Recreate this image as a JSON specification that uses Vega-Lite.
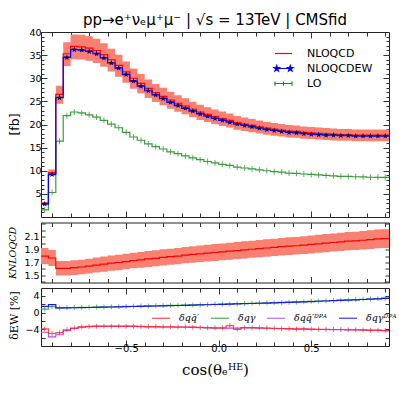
{
"$schema": "https://vega.github.io/schema/vega-lite/v6.json",
"background": "white",
"padding": {"left": 6, "top": 12, "right": 2, "bottom": 2},
"title": {"text": "pp→e⁺νₑμ⁺μ⁻ | √s = 13TeV | CMSfid", "font": "DejaVu Sans", "fontSize": 15, "fontWeight": "normal", "color": "#000", "anchor": "middle", "frame": "group", "offset": 8, "dy": 9},
"config": {
  "view": {"stroke": "#222", "strokeWidth": 1},
  "axis": {"grid": false, "domain": false, "labelOverlap": false, "labelFont": "DejaVu Sans", "labelFontSize": 9.5, "labelColor": "#000", "tickColor": "#333", "titleFont": "DejaVu Sans", "titleFontWeight": "normal", "titleColor": "#000"},
  "legend": {"labelColor": "#000"}
},
"datasets": {"bins": [
{"x":-0.96,"xc":-0.94,"qcd":3.0,"qlo":2.78,"qhi":3.21,"ew":2.8,"lo":1.55,"k":1.80,"klo":1.674,"khi":1.926,"dqq":-3.9,"dqg":0.85,"dqqd":-4.7,"dqgd":1.5},
{"x":-0.92,"xc":-0.90,"qcd":9.6,"qlo":8.88,"qhi":10.27,"ew":9.2,"lo":5.3,"k":1.77,"klo":1.646,"khi":1.894,"dqq":-5.0,"dqg":1.45,"dqqd":-5.8,"dqgd":1.9},
{"x":-0.88,"xc":-0.86,"qcd":26.5,"qlo":24.51,"qhi":28.36,"ew":25.8,"lo":16.4,"k":1.61,"klo":1.497,"khi":1.723,"dqq":-4.8,"dqg":1.1,"dqqd":-5.3,"dqgd":1.15},
{"x":-0.84,"xc":-0.82,"qcd":35.3,"qlo":32.65,"qhi":37.77,"ew":34.5,"lo":21.9,"k":1.61,"klo":1.497,"khi":1.723,"dqq":-4.1,"dqg":1.2,"dqqd":-4.3,"dqgd":1.15},
{"x":-0.80,"xc":-0.78,"qcd":36.9,"qlo":34.13,"qhi":39.48,"ew":36.2,"lo":22.7,"k":1.62,"klo":1.507,"khi":1.733,"dqq":-3.7,"dqg":1.22,"dqqd":-3.8,"dqgd":1.17},
{"x":-0.76,"xc":-0.74,"qcd":36.8,"qlo":34.04,"qhi":39.38,"ew":36.1,"lo":22.5,"k":1.63,"klo":1.516,"khi":1.744,"dqq":-3.4,"dqg":1.25,"dqqd":-3.5,"dqgd":1.20},
{"x":-0.72,"xc":-0.70,"qcd":36.5,"qlo":33.76,"qhi":39.06,"ew":35.8,"lo":22.1,"k":1.645,"klo":1.530,"khi":1.760,"dqq":-3.3,"dqg":1.28,"dqqd":-3.35,"dqgd":1.23},
{"x":-0.68,"xc":-0.66,"qcd":36.0,"qlo":33.30,"qhi":38.52,"ew":35.3,"lo":21.6,"k":1.66,"klo":1.544,"khi":1.776,"dqq":-3.25,"dqg":1.32,"dqqd":-3.3,"dqgd":1.27},
{"x":-0.64,"xc":-0.62,"qcd":35.1,"qlo":32.47,"qhi":37.56,"ew":34.4,"lo":20.9,"k":1.675,"klo":1.558,"khi":1.792,"dqq":-3.25,"dqg":1.36,"dqqd":-3.3,"dqgd":1.31},
{"x":-0.60,"xc":-0.58,"qcd":34.0,"qlo":31.45,"qhi":36.38,"ew":33.3,"lo":20.1,"k":1.69,"klo":1.572,"khi":1.808,"dqq":-3.25,"dqg":1.40,"dqqd":-3.3,"dqgd":1.35},
{"x":-0.56,"xc":-0.54,"qcd":32.8,"qlo":30.34,"qhi":35.10,"ew":32.2,"lo":19.3,"k":1.70,"klo":1.581,"khi":1.819,"dqq":-3.25,"dqg":1.44,"dqqd":-3.3,"dqgd":1.39},
{"x":-0.52,"xc":-0.50,"qcd":31.4,"qlo":29.05,"qhi":33.60,"ew":30.8,"lo":18.3,"k":1.715,"klo":1.595,"khi":1.835,"dqq":-3.25,"dqg":1.48,"dqqd":-3.3,"dqgd":1.43},
{"x":-0.48,"xc":-0.46,"qcd":30.0,"qlo":27.75,"qhi":32.10,"ew":29.4,"lo":17.3,"k":1.73,"klo":1.609,"khi":1.851,"dqq":-3.25,"dqg":1.52,"dqqd":-3.3,"dqgd":1.47},
{"x":-0.44,"xc":-0.42,"qcd":28.9,"qlo":26.73,"qhi":30.92,"ew":28.3,"lo":16.6,"k":1.74,"klo":1.618,"khi":1.862,"dqq":-3.3,"dqg":1.56,"dqqd":-3.35,"dqgd":1.51},
{"x":-0.40,"xc":-0.38,"qcd":27.8,"qlo":25.72,"qhi":29.75,"ew":27.3,"lo":15.8,"k":1.755,"klo":1.632,"khi":1.878,"dqq":-3.35,"dqg":1.60,"dqqd":-3.4,"dqgd":1.55},
{"x":-0.36,"xc":-0.34,"qcd":26.9,"qlo":24.88,"qhi":28.78,"ew":26.4,"lo":15.2,"k":1.765,"klo":1.641,"khi":1.889,"dqq":-3.35,"dqg":1.64,"dqqd":-3.4,"dqgd":1.59},
{"x":-0.32,"xc":-0.30,"qcd":26.1,"qlo":24.14,"qhi":27.93,"ew":25.6,"lo":14.7,"k":1.78,"klo":1.655,"khi":1.905,"dqq":-3.4,"dqg":1.68,"dqqd":-3.45,"dqgd":1.63},
{"x":-0.28,"xc":-0.26,"qcd":25.3,"qlo":23.40,"qhi":27.07,"ew":24.8,"lo":14.1,"k":1.79,"klo":1.665,"khi":1.915,"dqq":-3.4,"dqg":1.72,"dqqd":-3.45,"dqgd":1.67},
{"x":-0.24,"xc":-0.22,"qcd":24.6,"qlo":22.76,"qhi":26.32,"ew":24.1,"lo":13.7,"k":1.80,"klo":1.674,"khi":1.926,"dqq":-3.45,"dqg":1.76,"dqqd":-3.5,"dqgd":1.71},
{"x":-0.20,"xc":-0.18,"qcd":24.0,"qlo":22.20,"qhi":25.68,"ew":23.5,"lo":13.2,"k":1.815,"klo":1.688,"khi":1.942,"dqq":-3.45,"dqg":1.80,"dqqd":-3.5,"dqgd":1.75},
{"x":-0.16,"xc":-0.14,"qcd":23.3,"qlo":21.55,"qhi":24.93,"ew":22.9,"lo":12.8,"k":1.825,"klo":1.697,"khi":1.953,"dqq":-3.5,"dqg":1.84,"dqqd":-3.55,"dqgd":1.79},
{"x":-0.12,"xc":-0.10,"qcd":22.7,"qlo":21.00,"qhi":24.29,"ew":22.3,"lo":12.4,"k":1.835,"klo":1.707,"khi":1.963,"dqq":-3.55,"dqg":1.89,"dqqd":-3.6,"dqgd":1.84},
{"x":-0.08,"xc":-0.06,"qcd":22.2,"qlo":20.54,"qhi":23.75,"ew":21.8,"lo":12.0,"k":1.845,"klo":1.716,"khi":1.974,"dqq":-3.6,"dqg":1.94,"dqqd":-3.65,"dqgd":1.89},
{"x":-0.04,"xc":-0.02,"qcd":21.7,"qlo":20.07,"qhi":23.22,"ew":21.3,"lo":11.7,"k":1.855,"klo":1.725,"khi":1.985,"dqq":-3.65,"dqg":1.99,"dqqd":-3.7,"dqgd":1.94},
{"x":0.00,"xc":0.02,"qcd":21.3,"qlo":19.70,"qhi":22.79,"ew":20.9,"lo":11.4,"k":1.865,"klo":1.734,"khi":1.996,"dqq":-3.65,"dqg":2.04,"dqqd":-3.7,"dqgd":1.99},
{"x":0.04,"xc":0.06,"qcd":20.9,"qlo":19.33,"qhi":22.36,"ew":20.5,"lo":11.15,"k":1.875,"klo":1.744,"khi":2.006,"dqq":-3.1,"dqg":2.09,"dqqd":-3.7,"dqgd":2.04},
{"x":0.08,"xc":0.10,"qcd":20.4,"qlo":18.87,"qhi":21.83,"ew":20.1,"lo":10.8,"k":1.885,"klo":1.753,"khi":2.017,"dqq":-4.0,"dqg":2.14,"dqqd":-3.7,"dqgd":2.09},
{"x":0.12,"xc":0.14,"qcd":20.1,"qlo":18.59,"qhi":21.51,"ew":19.8,"lo":10.6,"k":1.895,"klo":1.762,"khi":2.028,"dqq":-3.6,"dqg":2.19,"dqqd":-3.65,"dqgd":2.14},
{"x":0.16,"xc":0.18,"qcd":19.8,"qlo":18.32,"qhi":21.19,"ew":19.5,"lo":10.4,"k":1.905,"klo":1.772,"khi":2.038,"dqq":-3.6,"dqg":2.24,"dqqd":-3.65,"dqgd":2.19},
{"x":0.20,"xc":0.22,"qcd":19.5,"qlo":18.04,"qhi":20.87,"ew":19.2,"lo":10.2,"k":1.915,"klo":1.781,"khi":2.049,"dqq":-3.65,"dqg":2.29,"dqqd":-3.7,"dqgd":2.24},
{"x":0.24,"xc":0.26,"qcd":19.2,"qlo":17.76,"qhi":20.54,"ew":18.9,"lo":10.0,"k":1.925,"klo":1.790,"khi":2.060,"dqq":-3.7,"dqg":2.34,"dqqd":-3.75,"dqgd":2.29},
{"x":0.28,"xc":0.30,"qcd":19.0,"qlo":17.58,"qhi":20.33,"ew":18.7,"lo":9.8,"k":1.935,"klo":1.800,"khi":2.070,"dqq":-3.75,"dqg":2.39,"dqqd":-3.8,"dqgd":2.34},
{"x":0.32,"xc":0.34,"qcd":18.8,"qlo":17.39,"qhi":20.12,"ew":18.5,"lo":9.7,"k":1.945,"klo":1.809,"khi":2.081,"dqq":-3.8,"dqg":2.45,"dqqd":-3.85,"dqgd":2.40},
{"x":0.36,"xc":0.38,"qcd":18.6,"qlo":17.21,"qhi":19.90,"ew":18.3,"lo":9.5,"k":1.955,"klo":1.818,"khi":2.092,"dqq":-3.85,"dqg":2.51,"dqqd":-3.9,"dqgd":2.46},
{"x":0.40,"xc":0.42,"qcd":18.5,"qlo":17.11,"qhi":19.80,"ew":18.2,"lo":9.45,"k":1.96,"klo":1.823,"khi":2.097,"dqq":-3.9,"dqg":2.57,"dqqd":-3.95,"dqgd":2.52},
{"x":0.44,"xc":0.46,"qcd":18.3,"qlo":16.93,"qhi":19.58,"ew":18.0,"lo":9.3,"k":1.97,"klo":1.832,"khi":2.108,"dqq":-3.9,"dqg":2.63,"dqqd":-3.95,"dqgd":2.58},
{"x":0.48,"xc":0.50,"qcd":18.2,"qlo":16.84,"qhi":19.47,"ew":17.9,"lo":9.2,"k":1.98,"klo":1.841,"khi":2.119,"dqq":-3.95,"dqg":2.70,"dqqd":-4.0,"dqgd":2.65},
{"x":0.52,"xc":0.54,"qcd":18.1,"qlo":16.74,"qhi":19.37,"ew":17.8,"lo":9.1,"k":1.99,"klo":1.851,"khi":2.129,"dqq":-4.0,"dqg":2.77,"dqqd":-4.05,"dqgd":2.72},
{"x":0.56,"xc":0.58,"qcd":18.0,"qlo":16.65,"qhi":19.26,"ew":17.7,"lo":9.0,"k":2.00,"klo":1.860,"khi":2.140,"dqq":-4.0,"dqg":2.84,"dqqd":-4.05,"dqgd":2.79},
{"x":0.60,"xc":0.62,"qcd":17.9,"qlo":16.56,"qhi":19.15,"ew":17.7,"lo":8.9,"k":2.01,"klo":1.869,"khi":2.151,"dqq":-4.05,"dqg":2.91,"dqqd":-4.1,"dqgd":2.86},
{"x":0.64,"xc":0.66,"qcd":17.8,"qlo":16.47,"qhi":19.05,"ew":17.6,"lo":8.8,"k":2.02,"klo":1.879,"khi":2.161,"dqq":-4.05,"dqg":2.98,"dqqd":-4.1,"dqgd":2.93},
{"x":0.68,"xc":0.70,"qcd":17.8,"qlo":16.47,"qhi":19.05,"ew":17.6,"lo":8.77,"k":2.03,"klo":1.888,"khi":2.172,"dqq":-4.1,"dqg":3.05,"dqqd":-4.15,"dqgd":3.00},
{"x":0.72,"xc":0.74,"qcd":17.7,"qlo":16.37,"qhi":18.94,"ew":17.5,"lo":8.7,"k":2.035,"klo":1.893,"khi":2.177,"dqq":-4.1,"dqg":3.12,"dqqd":-4.15,"dqgd":3.07},
{"x":0.76,"xc":0.78,"qcd":17.7,"qlo":16.37,"qhi":18.94,"ew":17.5,"lo":8.66,"k":2.045,"klo":1.902,"khi":2.188,"dqq":-4.15,"dqg":3.19,"dqqd":-4.2,"dqgd":3.14},
{"x":0.80,"xc":0.82,"qcd":17.7,"qlo":16.37,"qhi":18.94,"ew":17.5,"lo":8.6,"k":2.055,"klo":1.911,"khi":2.199,"dqq":-4.2,"dqg":3.26,"dqqd":-4.25,"dqgd":3.21},
{"x":0.84,"xc":0.86,"qcd":17.7,"qlo":16.37,"qhi":18.94,"ew":17.5,"lo":8.57,"k":2.065,"klo":1.920,"khi":2.210,"dqq":-4.2,"dqg":3.34,"dqqd":-4.25,"dqgd":3.29},
{"x":0.88,"xc":0.90,"qcd":17.7,"qlo":16.37,"qhi":18.94,"ew":17.5,"lo":8.55,"k":2.07,"klo":1.925,"khi":2.215,"dqq":-4.3,"dqg":3.45,"dqqd":-4.35,"dqgd":3.40},
{"x":0.92,"qcd":17.7,"qlo":16.37,"qhi":18.94,"ew":17.5,"lo":8.55,"k":2.07,"klo":1.925,"khi":2.215,"dqq":-4.3,"dqg":3.45,"dqqd":-4.35,"dqgd":3.40}
]},
"spacing": 5.5,
"bounds": "flush",
"resolve": {"scale": {"x": "independent", "y": "independent", "color": "independent"}, "legend": {"color": "independent"}},
"vconcat": [
{
  "width": 348, "height": 185,
  "data": {"name": "bins"},
  "resolve": {"axis": {"x": "independent", "y": "independent"}},
  "layer": [
    {"mark": {"type": "area", "interpolate": "step-after", "color": "#fa8072", "opacity": 1},
     "encoding": {
       "x": {"field": "x", "type": "quantitative", "scale": {"domain": [-0.96, 0.92], "nice": false, "zero": false},
             "axis": {"orient": "top", "values": [-0.9,-0.8,-0.7,-0.6,-0.5,-0.4,-0.3,-0.2,-0.1,0,0.1,0.2,0.3,0.4,0.5,0.6,0.7,0.8,0.9], "labels": false, "title": null, "tickSize": {"condition": {"test": "abs(datum.value) === 0.5 || datum.value === 0", "value": -6}, "value": -4}}},
       "y": {"field": "qlo", "type": "quantitative", "scale": {"domain": [0, 40], "nice": false, "zero": false},
             "axis": {"orient": "right", "values": [1,2,3,4,5,6,7,8,9,10,11,12,13,14,15,16,17,18,19,20,21,22,23,24,25,26,27,28,29,30,31,32,33,34,35,36,37,38,39], "labels": false, "title": null, "tickSize": {"condition": {"test": "datum.value % 5 === 0", "value": -6}, "value": -3}}},
       "y2": {"field": "qhi"}
     }},
    {"mark": {"type": "line", "interpolate": "step-after", "strokeWidth": 1.2},
     "encoding": {
       "x": {"field": "x", "type": "quantitative", "scale": {"domain": [-0.96, 0.92], "nice": false, "zero": false},
             "axis": {"orient": "bottom", "values": [-0.9,-0.8,-0.7,-0.6,-0.5,-0.4,-0.3,-0.2,-0.1,0,0.1,0.2,0.3,0.4,0.5,0.6,0.7,0.8,0.9], "labels": false, "title": null, "tickSize": {"condition": {"test": "abs(datum.value) === 0.5 || datum.value === 0", "value": -6}, "value": -4}}},
       "y": {"field": "qcd", "type": "quantitative", "scale": {"domain": [0, 40], "nice": false, "zero": false},
             "axis": {"orient": "left", "values": [1,2,3,4,5,6,7,8,9,10,11,12,13,14,15,16,17,18,19,20,21,22,23,24,25,26,27,28,29,30,31,32,33,34,35,36,37,38,39,40], "labelOverlap": false, "labelExpr": "datum.value % 5 === 0 ? format(datum.value, 'd') : ''", "labelPadding": 6, "tickSize": {"condition": {"test": "datum.value % 5 === 0", "value": -6}, "value": -3},
                      "title": "[fb]", "titleFontSize": 12.5, "titleAngle": -90, "titleBaseline": "bottom", "titleAlign": "center", "titleX": -20, "titleY": 92}},
       "color": {"datum": "NLOQCD", "type": "nominal", "scale": {"domain": ["NLOQCD", "NLOQCDEW", "LO"], "range": ["#ff0000", "#0000ff", "#1a8a1a"]},
                 "legend": {"orient": "none", "legendX": 233, "legendY": 12, "title": null, "padding": 0, "rowPadding": 0, "symbolSize": 289, "symbolStrokeWidth": 1.2, "symbolType": "stroke", "labelFont": "DejaVu Sans", "labelFontSize": 11, "labelOffset": 14,
                   "encode": {"symbols": {"update": {
                     "shape": {"signal": "datum.value === 'NLOQCDEW' ? 'M-1,0L1,0M-0.8,-0.35L-0.718,-0.113L-0.467,-0.108L-0.667,0.043L-0.594,0.283L-0.8,0.14L-1.006,0.283L-0.933,0.043L-1.133,-0.108L-0.882,-0.113ZM0.8,-0.35L0.882,-0.113L1.133,-0.108L0.933,0.043L1.006,0.283L0.8,0.14L0.594,0.283L0.667,0.043L0.467,-0.108L0.718,-0.113Z' : (datum.value === 'LO' ? 'M-1,0L1,0M-1,-0.25L-1,0.25M1,-0.25L1,0.25M0,-0.25L0,0.25' : 'stroke')"},
                     "fill": {"signal": "datum.value === 'NLOQCDEW' ? '#000066' : 'transparent'"}}}}}}
     }},
    {"mark": {"type": "line", "interpolate": "step-after", "strokeWidth": 1.2, "opacity": 0.85},
     "encoding": {
       "x": {"field": "x", "type": "quantitative", "scale": {"domain": [-0.96, 0.92], "nice": false, "zero": false}, "axis": null},
       "y": {"field": "lo", "type": "quantitative", "scale": {"domain": [0, 40], "nice": false, "zero": false}, "axis": null},
       "color": {"datum": "LO", "type": "nominal"}
     }},
    {"transform": [{"filter": "isValid(datum.xc)"}],
     "mark": {"type": "tick", "orient": "vertical", "color": "#3a9a3a", "size": 6, "thickness": 1, "opacity": 0.8},
     "encoding": {
       "x": {"field": "xc", "type": "quantitative", "scale": {"domain": [-0.96, 0.92], "nice": false, "zero": false}, "axis": null},
       "y": {"field": "lo", "type": "quantitative", "scale": {"domain": [0, 40], "nice": false, "zero": false}, "axis": null}
     }},
    {"mark": {"type": "line", "interpolate": "step-after", "strokeWidth": 1.2},
     "encoding": {
       "x": {"field": "x", "type": "quantitative", "scale": {"domain": [-0.96, 0.92], "nice": false, "zero": false}, "axis": null},
       "y": {"field": "ew", "type": "quantitative", "scale": {"domain": [0, 40], "nice": false, "zero": false}, "axis": null},
       "color": {"datum": "NLOQCDEW", "type": "nominal"}
     }},
    {"transform": [{"filter": "isValid(datum.xc)"}],
     "mark": {"type": "point", "shape": "M0,-1L0.235,-0.324L0.951,-0.309L0.380,0.124L0.588,0.809L0,0.4L-0.588,0.809L-0.380,0.124L-0.951,-0.309L-0.235,-0.324Z", "filled": true, "color": "#000066", "size": 40, "opacity": 1},
     "encoding": {
       "x": {"field": "xc", "type": "quantitative", "scale": {"domain": [-0.96, 0.92], "nice": false, "zero": false}, "axis": null},
       "y": {"field": "ew", "type": "quantitative", "scale": {"domain": [0, 40], "nice": false, "zero": false}, "axis": null}
     }}
  ]
},
{
  "width": 348, "height": 60,
  "data": {"name": "bins"},
  "resolve": {"axis": {"x": "independent", "y": "independent"}},
  "layer": [
    {"mark": {"type": "area", "interpolate": "step-after", "color": "#fa8072", "opacity": 1},
     "encoding": {
       "x": {"field": "x", "type": "quantitative", "scale": {"domain": [-0.96, 0.92], "nice": false, "zero": false},
             "axis": {"orient": "top", "values": [-0.9,-0.8,-0.7,-0.6,-0.5,-0.4,-0.3,-0.2,-0.1,0,0.1,0.2,0.3,0.4,0.5,0.6,0.7,0.8,0.9], "labels": false, "title": null, "tickSize": {"condition": {"test": "abs(datum.value) === 0.5 || datum.value === 0", "value": -6}, "value": -4}}},
       "y": {"field": "klo", "type": "quantitative", "scale": {"domain": [1.39, 2.32], "nice": false, "zero": false},
             "axis": {"orient": "right", "values": [1.4,1.5,1.6,1.7,1.8,1.9,2.0,2.1,2.2,2.3], "labels": false, "title": null, "tickSize": -4}},
       "y2": {"field": "khi"}
     }},
    {"mark": {"type": "line", "interpolate": "step-after", "strokeWidth": 1.2, "color": "#ff0000"},
     "encoding": {
       "x": {"field": "x", "type": "quantitative", "scale": {"domain": [-0.96, 0.92], "nice": false, "zero": false},
             "axis": {"orient": "bottom", "values": [-0.9,-0.8,-0.7,-0.6,-0.5,-0.4,-0.3,-0.2,-0.1,0,0.1,0.2,0.3,0.4,0.5,0.6,0.7,0.8,0.9], "labels": false, "title": null, "tickSize": {"condition": {"test": "abs(datum.value) === 0.5 || datum.value === 0", "value": -6}, "value": -4}}},
       "y": {"field": "k", "type": "quantitative", "scale": {"domain": [1.39, 2.32], "nice": false, "zero": false},
             "axis": {"orient": "left", "values": [1.4,1.5,1.6,1.7,1.8,1.9,2.0,2.1,2.2,2.3], "labelOverlap": false, "labelExpr": "indexof(['1.5','1.7','1.9','2.1'], format(datum.value, '.1f')) >= 0 ? format(datum.value, '.1f') : ''", "labelPadding": 6, "tickSize": -4,
                      "title": "KNLOQCD", "titleFont": "DejaVu Serif", "titleFontStyle": "italic", "titleFontSize": 9.5, "titleAngle": -90, "titleBaseline": "bottom", "titleAlign": "center", "titleX": -24, "titleY": 30}}
     }}
  ]
},
{
  "width": 348, "height": 58,
  "data": {"name": "bins"},
  "resolve": {"axis": {"x": "independent", "y": "independent"}},
  "layer": [
    {"mark": {"type": "line", "interpolate": "step-after", "strokeWidth": 1.2, "opacity": 0.85},
     "encoding": {
       "x": {"field": "x", "type": "quantitative", "scale": {"domain": [-0.96, 0.92], "nice": false, "zero": false},
             "axis": {"orient": "top", "values": [-0.9,-0.8,-0.7,-0.6,-0.5,-0.4,-0.3,-0.2,-0.1,0,0.1,0.2,0.3,0.4,0.5,0.6,0.7,0.8,0.9], "labels": false, "title": null, "tickSize": {"condition": {"test": "abs(datum.value) === 0.5 || datum.value === 0", "value": -6}, "value": -4}}},
       "y": {"field": "dqg", "type": "quantitative", "scale": {"domain": [-8, 5.9], "nice": false, "zero": false},
             "axis": {"orient": "right", "values": [-6,-4,-2,0,2,4], "labels": false, "title": null, "tickSize": -4}},
       "color": {"datum": "δqγ", "type": "nominal", "scale": {"domain": ["δqq̄′", "δqγ", "δqq̄′ᴰᴾᴬ", "δqγᴰᴾᴬ"], "range": ["#ff2a2a", "#2ea02e", "#b44fe0", "#1a1aee"]},
                 "legend": {"orient": "none", "direction": "horizontal", "columns": 4, "legendX": 110, "legendY": 20, "title": null, "padding": 0, "columnPadding": 8, "symbolSize": 324, "symbolStrokeWidth": 1.2, "symbolType": "stroke", "labelFont": "DejaVu Serif", "labelFontStyle": "italic", "labelFontSize": 9.5, "labelOffset": 8,
                   "encode": {"symbols": {"update": {"shape": {"signal": "datum.index < 2 ? 'M-1,0L1,0M-1,-0.3L-1,0.3M1,-0.3L1,0.3M0,-0.3L0,0.3' : 'M-0.85,0L0.85,0'"}}}}}}
     }},
    {"transform": [{"filter": "isValid(datum.xc)"}],
     "mark": {"type": "tick", "orient": "vertical", "color": "#2ea02e", "size": 5, "thickness": 1, "opacity": 0.7},
     "encoding": {
       "x": {"field": "xc", "type": "quantitative", "scale": {"domain": [-0.96, 0.92], "nice": false, "zero": false}, "axis": null},
       "y": {"field": "dqg", "type": "quantitative", "scale": {"domain": [-8, 5.9], "nice": false, "zero": false}, "axis": null}
     }},
    {"mark": {"type": "line", "interpolate": "step-after", "strokeWidth": 1.2},
     "encoding": {
       "x": {"field": "x", "type": "quantitative", "scale": {"domain": [-0.96, 0.92], "nice": false, "zero": false}, "axis": null},
       "y": {"field": "dqgd", "type": "quantitative", "scale": {"domain": [-8, 5.9], "nice": false, "zero": false}, "axis": null},
       "color": {"datum": "δqγᴰᴾᴬ", "type": "nominal"}
     }},
    {"mark": {"type": "line", "interpolate": "step-after", "strokeWidth": 1.2},
     "encoding": {
       "x": {"field": "x", "type": "quantitative", "scale": {"domain": [-0.96, 0.92], "nice": false, "zero": false}, "axis": null},
       "y": {"field": "dqqd", "type": "quantitative", "scale": {"domain": [-8, 5.9], "nice": false, "zero": false}, "axis": null},
       "color": {"datum": "δqq̄′ᴰᴾᴬ", "type": "nominal"}
     }},
    {"mark": {"type": "line", "interpolate": "step-after", "strokeWidth": 1.2, "opacity": 0.85},
     "encoding": {
       "x": {"field": "x", "type": "quantitative", "scale": {"domain": [-0.96, 0.92], "nice": false, "zero": false},
             "axis": {"orient": "bottom", "values": [-0.9,-0.8,-0.7,-0.6,-0.5,-0.4,-0.3,-0.2,-0.1,0,0.1,0.2,0.3,0.4,0.5,0.6,0.7,0.8,0.9], "labelOverlap": false, "labelExpr": "(datum.value === -0.5 || datum.value === 0 || datum.value === 0.5) ? format(datum.value, '.1f') : ''", "labelPadding": 3, "labelFontSize": 10, "tickSize": {"condition": {"test": "abs(datum.value) === 0.5 || datum.value === 0", "value": -6}, "value": -4},
                      "title": "cos(θₑᴴᴱ)", "titleFont": "DejaVu Serif", "titleFontSize": 15, "titleBaseline": "middle", "titleY": 23}},
       "y": {"field": "dqq", "type": "quantitative", "scale": {"domain": [-8, 5.9], "nice": false, "zero": false},
             "axis": {"orient": "left", "values": [-6,-4,-2,0,2,4], "labelOverlap": false, "labelExpr": "datum.value % 4 === 0 ? datum.label : ''", "labelPadding": 6, "tickSize": -4,
                      "title": "δEW [%]", "titleFont": "DejaVu Serif", "titleFontSize": 11, "titleAngle": -90, "titleBaseline": "bottom", "titleAlign": "center", "titleX": -22, "titleY": 27}},
       "color": {"datum": "δqq̄′", "type": "nominal"}
     }},
    {"transform": [{"filter": "isValid(datum.xc)"}],
     "mark": {"type": "tick", "orient": "vertical", "color": "#ff2a2a", "size": 5, "thickness": 1, "opacity": 0.7},
     "encoding": {
       "x": {"field": "xc", "type": "quantitative", "scale": {"domain": [-0.96, 0.92], "nice": false, "zero": false}, "axis": null},
       "y": {"field": "dqq", "type": "quantitative", "scale": {"domain": [-8, 5.9], "nice": false, "zero": false}, "axis": null}
     }}
  ]
}
]
}
